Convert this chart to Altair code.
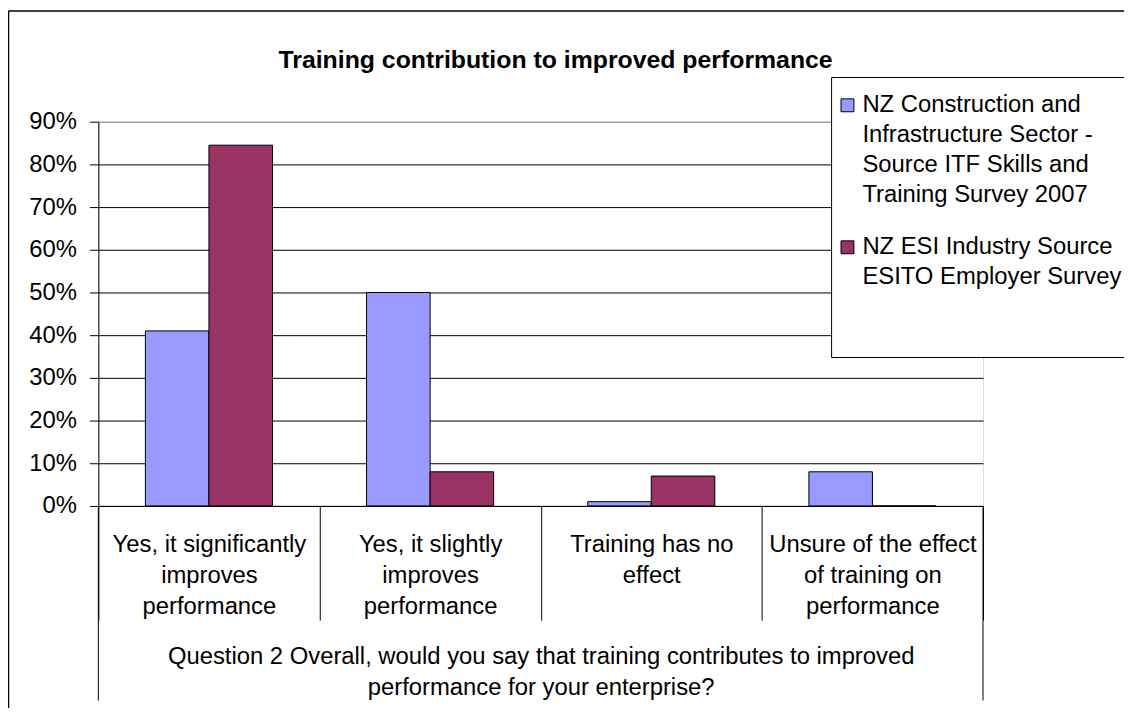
import altair as alt
import pandas as pd

# ---- data ----
categories = [
    "Yes, it significantly|improves|performance",
    "Yes, it slightly|improves|performance",
    "Training has no|effect",
    "Unsure of the effect|of training on|performance",
]
series = [
    "NZ Construction and|Infrastructure Sector -|Source ITF Skills and|Training Survey 2007",
    "NZ ESI Industry Source|ESITO Employer Survey",
]
construction_values = [0.41, 0.50, 0.01, 0.08]
esi_values = [0.845, 0.08, 0.07, 0.0]
series_colors = ["#9999FF", "#993366"]
y_ticks = [0, 0.1, 0.2, 0.3, 0.4, 0.5, 0.6, 0.7, 0.8, 0.9]
chart_title = "Training contribution to improved performance"
x_title = [
    "Question 2 Overall, would you say that training contributes to improved",
    "performance for your enterprise?",
]

rows = []
for c, v in zip(categories, construction_values):
    rows.append({"category": c, "series": series[0], "value": v})
for c, v in zip(categories, esi_values):
    rows.append({"category": c, "series": series[1], "value": v})
df = pd.DataFrame(rows)

FONT = "Liberation Sans"
W, H = 891, 387

bars = alt.Chart(df).mark_bar(stroke="black", strokeWidth=1).encode(
    x=alt.X(
        "category:N",
        sort=categories,
        scale=alt.Scale(paddingInner=0, paddingOuter=0),
        axis=alt.Axis(
            title=x_title,
            titleFontSize=24,
            titleFontWeight="normal",
            titleColor="black",
            titleFont=FONT,
            titleLineHeight=31,
            titleY=159,
            titleBaseline="alphabetic",
            labelExpr="split(datum.label, '|')",
            labelAngle=0,
            labelFontSize=24,
            labelFont=FONT,
            labelColor="black",
            labelLineHeight=31,
            labelLimit=0,
            labelPadding=-88,
            labelBaseline="top",
            tickBand="extent",
            tickSize=115,
            tickColor="black",
            tickWidth=1,
            domainColor="black",
            grid=False,
        ),
    ),
    xOffset=alt.XOffset(
        "series:N", sort=series,
        scale=alt.Scale(paddingInner=0, paddingOuter=0.74),
    ),
    y=alt.Y(
        "value:Q",
        scale=alt.Scale(domain=[0, 0.9], nice=False),
        axis=alt.Axis(
            title=None,
            values=y_ticks,
            format=".0%",
            labelFontSize=24,
            labelFont=FONT,
            labelColor="black",
            labelPadding=13,
            tickSize=9,
            tickColor="black",
            domainColor="black",
            gridColor={"condition": {"test": "datum.value >= 0.899", "value": "#808080"}, "value": "black"},
            gridWidth=1,
        ),
    ),
    color=alt.Color(
        "series:N",
        sort=series,
        scale=alt.Scale(domain=series, range=series_colors),
        legend=alt.Legend(
            orient="none",
            legendX=738,
            legendY=-45,
            title=" ",
            titleOrient="top",
            titleFontSize=8,
            titlePadding=7.5,
            fillColor="white",
            strokeColor="black",
            padding=8,
            symbolType="M-1,-2.077H1V-0.077H-1Z",
            symbolSize=169,
            symbolStrokeColor="black",
            symbolStrokeWidth=1,
            symbolOffset=-3.5,
            labelExpr="split(datum.label + (indexof(datum.label, 'ESITO') >= 0 ? '| | ' : ''), '|')",
            labelFontSize=24,
            labelFont=FONT,
            labelColor="black",
            labelBaseline="alphabetic",
            labelOffset=3,
            labelLimit=0,
            rowPadding=29,
        ),
    ),
)

frame_df = pd.DataFrame({"k": [0]})
long_lines = alt.Chart(frame_df).mark_rule(color="black", strokeWidth=1).encode(
    x=alt.value(0), y=alt.value(H), y2=alt.value(H + 196)
) + alt.Chart(frame_df).mark_rule(color="black", strokeWidth=1).encode(
    x=alt.value(W), y=alt.value(H), y2=alt.value(H + 196)
)
outer_border = alt.Chart(frame_df).mark_rule(color="black", strokeWidth=1.5).encode(
    x=alt.value(-90.5), y=alt.value(-111.5), y2=alt.value(600)
) + alt.Chart(frame_df).mark_rule(color="black", strokeWidth=1.5).encode(
    x=alt.value(-90.5), x2=alt.value(1050), y=alt.value(-111.5)
)

chart = alt.layer(bars, long_lines, outer_border).properties(
    width=W,
    height=H,
    autosize="none",
    padding={"left": 91, "top": 112, "right": 142, "bottom": 201},
    title=alt.TitleParams(
        text=chart_title,
        fontSize=25,
        fontWeight="bold",
        font=FONT,
        color="black",
        anchor="middle",
        dx=15,
        dy=67,
    ),
).configure_view(
    fill="#C0C0C0", stroke="#808080", strokeWidth=1
).configure(
    font=FONT,
    style={"guide-label": {"lineHeight": 30}},
)

chart.save("out.html", embed_options={"renderer": "svg", "actions": False})
